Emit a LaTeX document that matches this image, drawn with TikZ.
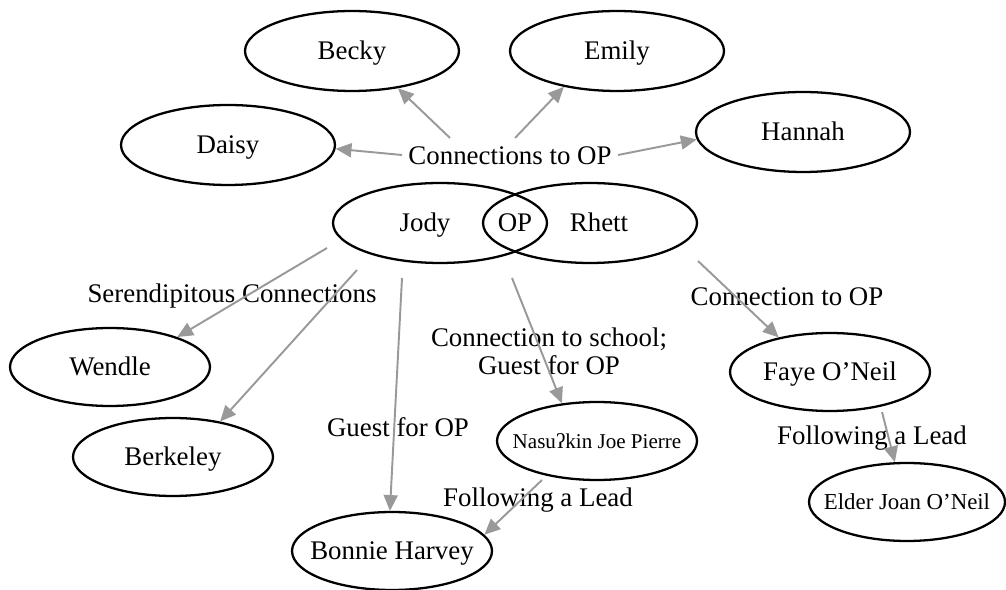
\documentclass[tikz,border=0pt]{standalone}
\usepackage{fontspec}
\setmainfont{Liberation Serif}
\usepackage{tikz}
\usetikzlibrary{arrows.meta,shapes.geometric,positioning}
\definecolor{linkgray}{rgb}{0.6,0.6,0.6}
\tikzset{
  person/.style={draw, ellipse, line width=1.3pt, inner sep=0pt, text height=12pt, text depth=2pt, minimum width=4.28cm, minimum height=1.6cm},
  guest/.style={person, minimum width=4cm, minimum height=1.56cm},
  link/.style={draw=linkgray, line width=1.1pt, -{Triangle[length=9pt,width=8pt]}}
}

\begin{document}
\begin{tikzpicture}[x=0.02cm, y=-0.02cm, every node/.append style={font=\fontsize{15.3}{16}\selectfont}]
      \useasboundingbox (0,0) rectangle (1006,590);

      \node[person] (becky) at (352,51) {Becky};
      \node[person] (emily) at (617,51) {Emily};
      \node[person] (daisy) at (228,145) {Daisy};
      \node[person] (hannah) at (803,132) {Hannah};
      \node at (510,156) (conn) {Connections to OP};

      \node[person] (jody) at (440,223) {\makebox[0pt]{Jody\hspace{0.6cm}}};
      \node[person] (rhett) at (590,223) {\makebox[0pt]{\hspace{0.36cm}Rhett}};
      \node[text height=12pt, text depth=2pt] (op) at (515,223) {OP};

      \node (seren) at (232,296) {Serendipitous Connections};
      \node[guest] (wendle) at (110,367) {Wendle};
      \node[guest] (berkeley) at (173,457) {Berkeley};
      \node (guest) at (398,427) {Guest for OP};
      \node[guest] (bonnie) at (392,551) {\makebox[0pt]{Bonnie Harvey}};

      \node[align=center] (school) at (549,351) {Connection to school;\\Guest for OP};
      \node[guest, font=\fontsize{12}{14}\selectfont, text height=10pt] (nasu) at (597,441) {\makebox[0pt]{Nasuʔkin Joe Pierre}};
      \node (lead1) at (538,500) {Following a Lead};

      \node (conn2) at (787,297) {Connection to OP};
      \node[guest] (faye) at (830,372) {Faye O’Neil};
      \node (lead2) at (872,438) {Following a Lead};
      \node[guest, minimum width=3.92cm, font=\fontsize{13}{15}\selectfont, text height=11pt] (elder) at (907,502) {\makebox[0pt]{Elder Joan O’Neil}};

      \coordinate (c-daisy) at (402,155);
      \coordinate (c-becky) at (450,138);
      \coordinate (c-emily) at (515,138);
      \coordinate (c-hannah) at (618,155);
      \coordinate (j-wendle) at (327,248);
      \coordinate (j-berkeley) at (357,270);
      \coordinate (j-bonnie) at (402,278);
      \coordinate (j-nasu) at (512,278);
      \coordinate (r-faye) at (698,261);
      \coordinate (f-elder) at (882,412);
      \coordinate (n-bonnie) at (542,480);

      \draw[link] (c-daisy) -- (daisy.-2);
      \draw[link] (c-becky) -- (becky.-39);
      \draw[link] (c-emily) -- (emily.-146);
      \draw[link] (c-hannah) -- (hannah.-176);
      \draw[link] (j-wendle) -- (wendle.24);
      \draw[link] (j-berkeley) -- (berkeley.37);
      \draw[link] (j-bonnie) -- (bonnie.93);
      \draw[link] (j-nasu) -- (nasu.133);
      \draw[link] (r-faye) -- (faye.146);
      \draw[link] (f-elder) -- (elder.107);
      \draw[link] (n-bonnie) -- (bonnie.10);
\end{tikzpicture}
\end{document}
